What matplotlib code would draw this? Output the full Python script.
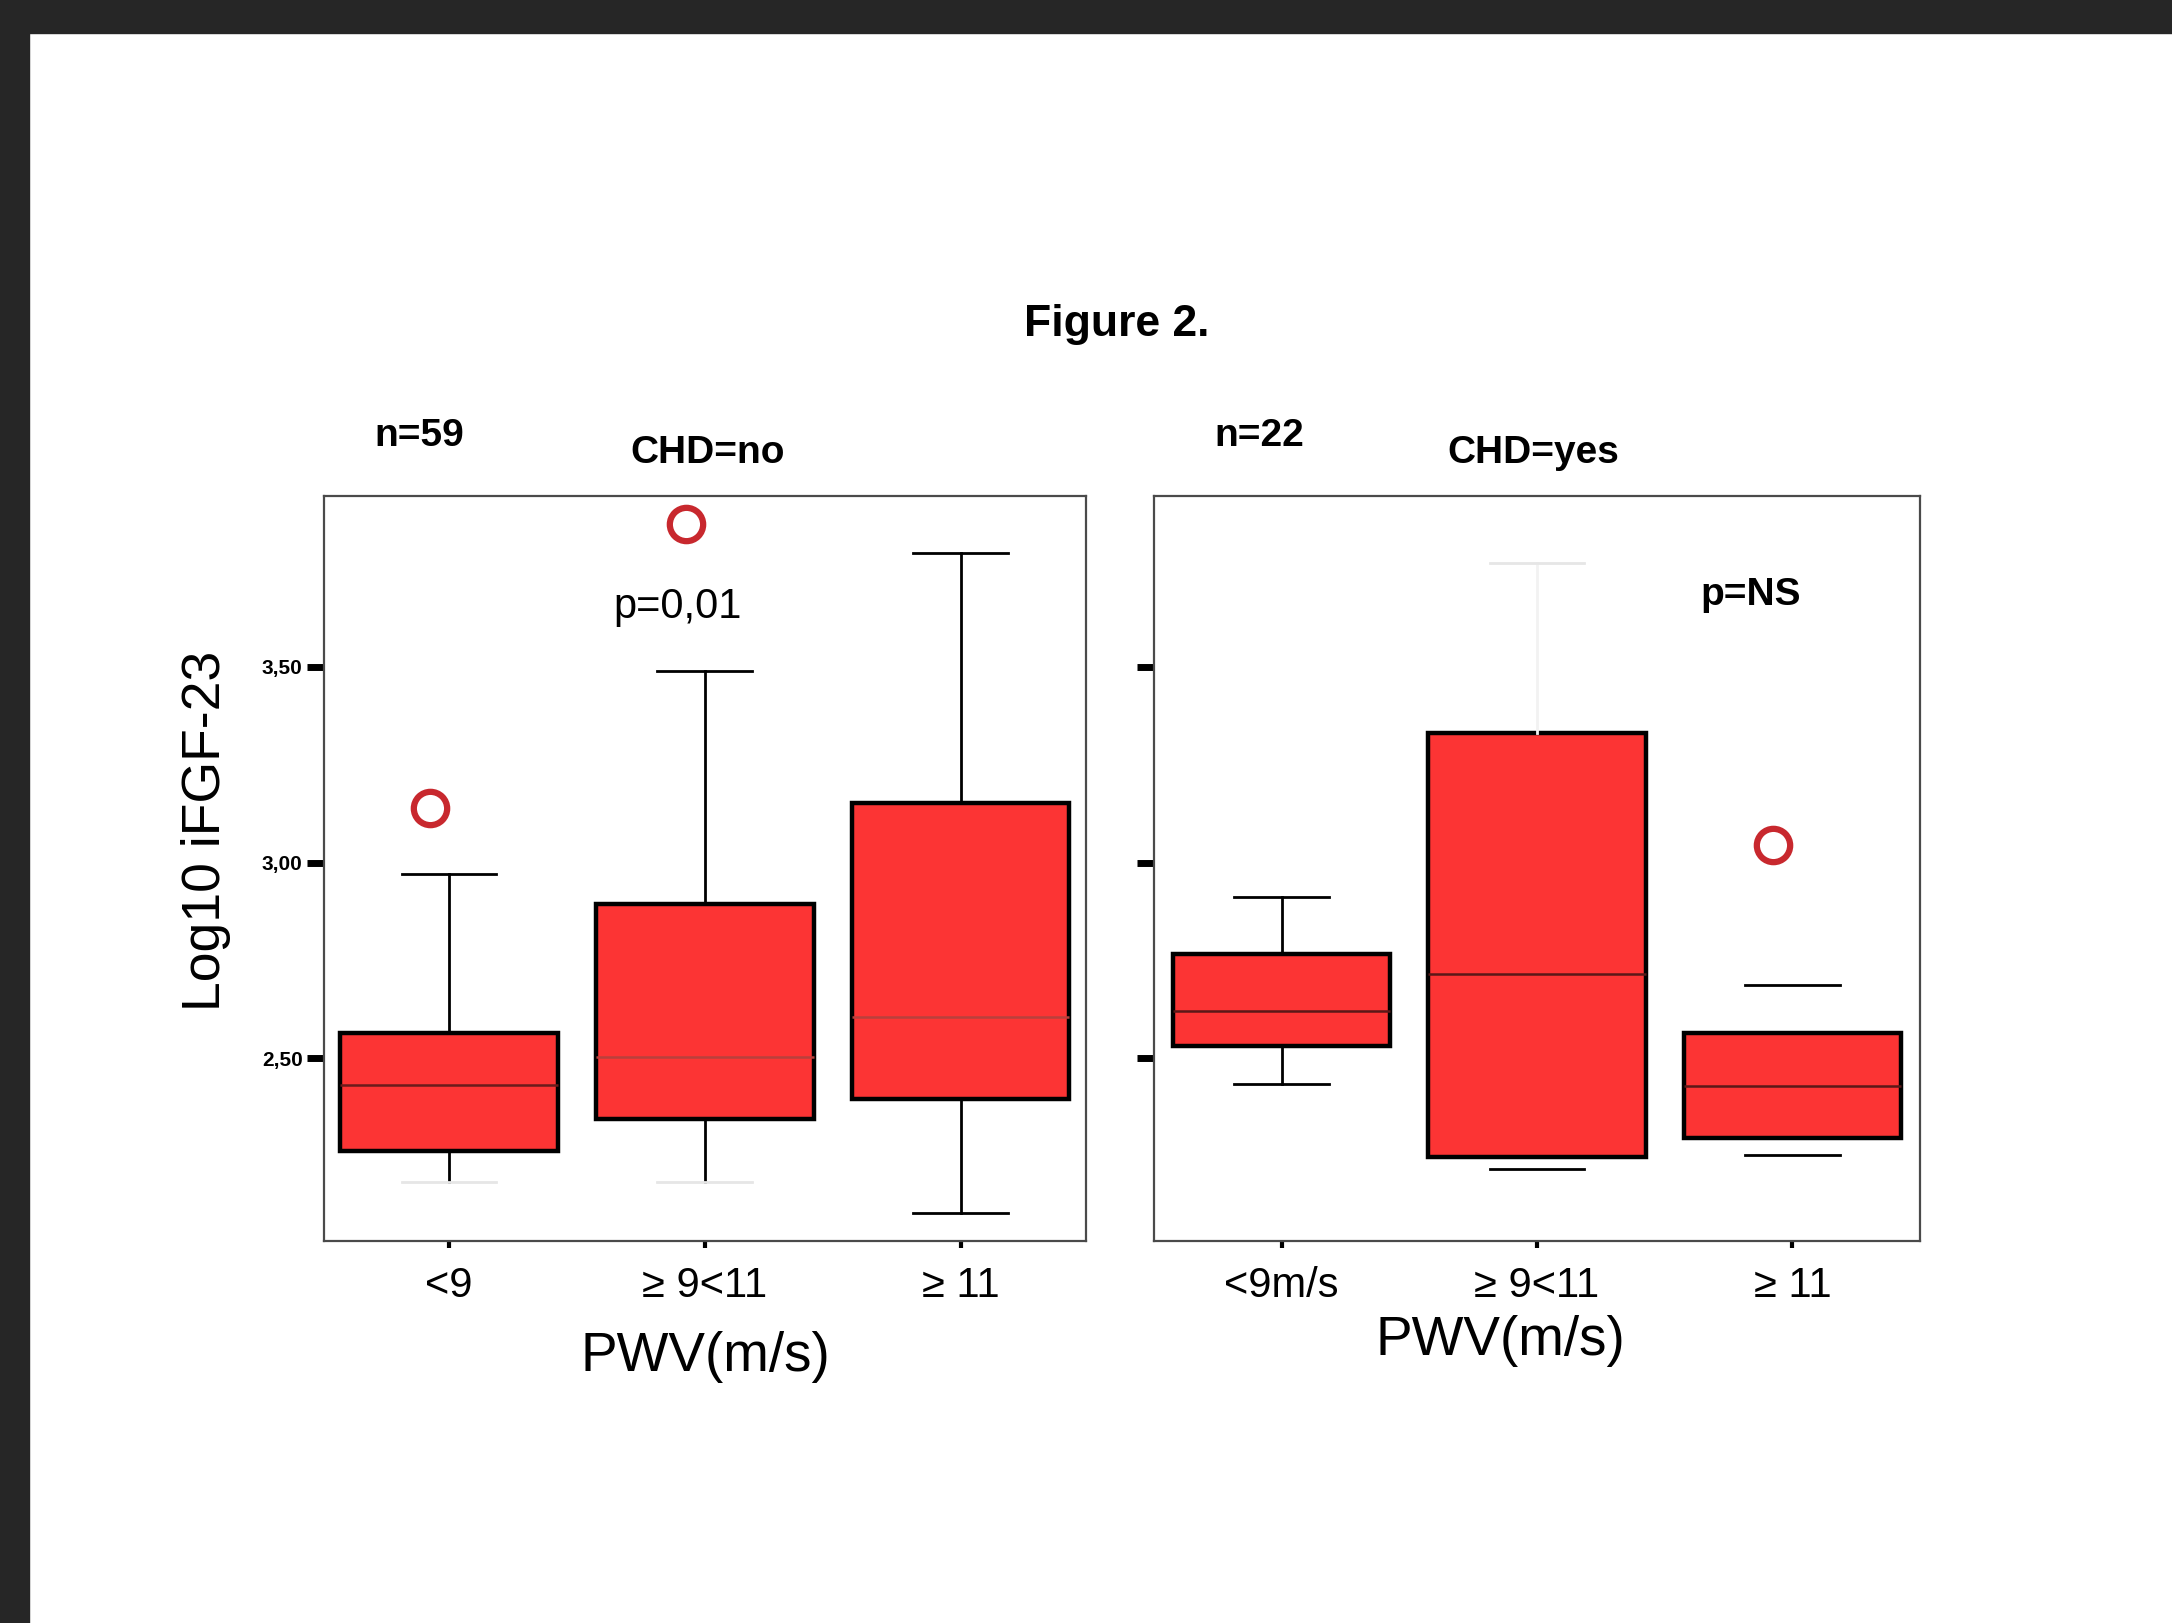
import matplotlib
matplotlib.use("Agg")
import numpy as np
from matplotlib import pyplot as plt
from matplotlib.patches import Rectangle

plt.rcParams['font.family'] = ['Liberation Sans', 'DejaVu Sans']

# data (Log10 iFGF-23)
pos = [1, 2, 3]
no_labels = ["<9", "\u2265 9<11", "\u2265 11"]
yes_labels = ["<9m/s", "\u2265 9<11", "\u2265 11"]

no_q1 = [2.265, 2.345, 2.396]
no_med = [2.432, 2.505, 2.605]
no_q3 = [2.565, 2.895, 3.153]
no_lo = [2.186, 2.186, 2.106]
no_hi = [2.972, 3.489, 3.790]
no_fliers = [[3.139], [3.864], []]

yes_q1 = [2.532, 2.249, 2.296]
yes_med = [2.620, 2.716, 2.429]
yes_q3 = [2.766, 3.331, 2.565]
yes_lo = [2.436, 2.219, 2.254]
yes_hi = [2.912, 3.764, 2.687]
yes_fliers = [[], [], [3.044]]

yticks = [2.5, 3.0, 3.5]
ytick_labels = ["2,50", "3,00", "3,50"]

RED = "#fc3434"
FAINT = "#e6e6e6"
VFAINT = "#f2f2f2"

fig = plt.figure(figsize=(21.72, 16.23), dpi=100)
fig.patches.append(Rectangle((0, 1 - 33 / 1623), 1, 33 / 1623, transform=fig.transFigure,
                             color="#262626", zorder=0))
fig.patches.append(Rectangle((0, 0), 29 / 2172, 1, transform=fig.transFigure,
                             color="#262626", zorder=0))

ax1 = fig.add_axes([0.1492, 0.2353, 0.3508, 0.4590])
ax2 = fig.add_axes([0.5313, 0.2353, 0.3527, 0.4590])


def draw_panel(ax, q1, med, q3, lo, hi, fliers, labels, med_colors, whisk_style, cap_style):
    stats = []
    for i in range(3):
        stats.append(dict(med=med[i], q1=q1[i], q3=q3[i], whislo=lo[i], whishi=hi[i], fliers=[]))
    art = ax.bxp(stats, positions=pos, widths=0.85, patch_artist=True, showfliers=False,
                 boxprops=dict(facecolor=RED, edgecolor="black", linewidth=3.2),
                 whiskerprops=dict(color="black", linewidth=2),
                 capprops=dict(color="black", linewidth=2),
                 medianprops=dict(linewidth=1.8), capwidths=0.37)
    for i, m in enumerate(art['medians']):
        m.set_color(med_colors[i])
    for i, w in enumerate(art['whiskers']):
        if whisk_style[i] == 0:
            w.set_visible(False)
        elif whisk_style[i] == 2:
            w.set_color(VFAINT)
    for i, c in enumerate(art['caps']):
        if cap_style[i] == 2:
            c.set_color(FAINT)
    for i, f in enumerate(fliers):
        if f:
            ax.plot([pos[i] - 0.075] * len(f), f, 'o', ms=24, mfc="none",
                    mec="#c8282e", mew=4.5)
    ax.set_ylim(2.034, 3.935)
    ax.set_xticks(pos)
    ax.set_xticklabels(labels, fontsize=30)
    ax.set_yticks(yticks)
    ax.tick_params(axis='y', length=12, width=5, color="black")
    ax.tick_params(axis='x', length=5, width=3, color="black", pad=13)
    for s in ax.spines.values():
        s.set_color("#4a4a4a")
        s.set_linewidth(1.6)


# whisker / cap style per line (lower, upper per box): 1 black, 2 faint, 0 hidden
draw_panel(ax1, no_q1, no_med, no_q3, no_lo, no_hi, no_fliers, no_labels,
           ["#6a1c1c", "#b8403c", "#b8403c"],
           [1, 1, 1, 1, 1, 1], [2, 1, 2, 1, 1, 1])
draw_panel(ax2, yes_q1, yes_med, yes_q3, yes_lo, yes_hi, yes_fliers, yes_labels,
           ["#5a1818", "#5a1818", "#5a1818"],
           [1, 1, 0, 2, 0, 0], [1, 1, 1, 2, 1, 1])

ax1.set_xlim(0.512, 3.49)
ax2.set_xlim(0.50, 3.50)
ax1.set_yticklabels(ytick_labels, fontsize=15, fontweight="bold")
ax2.set_yticklabels([])

ax1.text(1.893, 3.652, "p=0,01", fontsize=30, ha="center", va="center")
ax2.text(2.837, 3.684, "p=NS", fontsize=28, fontweight="bold", ha="center", va="center")

fig.text(0.514, 0.800, "Figure 2.", fontsize=32, fontweight="bold", ha="center", va="center")
fig.text(0.1932, 0.7312, "n=59", fontsize=28, fontweight="bold", ha="center", va="center")
fig.text(0.3259, 0.7209, "CHD=no", fontsize=28, fontweight="bold", ha="center", va="center")
fig.text(0.5797, 0.7312, "n=22", fontsize=28, fontweight="bold", ha="center", va="center")
fig.text(0.7060, 0.7209, "CHD=yes", fontsize=28, fontweight="bold", ha="center", va="center")
fig.text(0.0949, 0.488, "Log10 iFGF-23", fontsize=38.5, rotation=90, ha="center", va="center")
fig.text(0.3246, 0.1636, "PWV(m/s)", fontsize=39.5, ha="center", va="center")
fig.text(0.6906, 0.1738, "PWV(m/s)", fontsize=39.5, ha="center", va="center")

fig.savefig("out.png", dpi=100)
